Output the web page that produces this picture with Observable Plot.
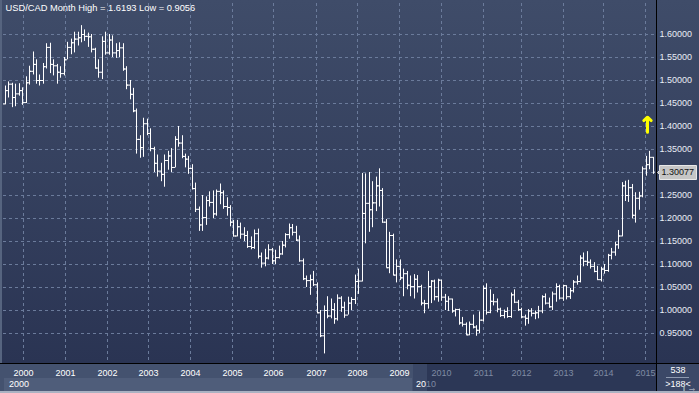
<!DOCTYPE html>
<html><head><meta charset="utf-8">
<script src="https://cdn.jsdelivr.net/npm/d3@7"></script>
<script src="https://cdn.jsdelivr.net/npm/@observablehq/plot@0.6"></script>
<style>
html,body{margin:0;padding:0;background:#2b3655;}
#wrap{position:relative;width:699px;height:393px;overflow:hidden;font-family:"Liberation Sans",Arial,sans-serif;background:#aab2c2;}
.abs{position:absolute;}
#plotbg{left:0;top:0;width:699px;height:363px;background:linear-gradient(#3f4c69,#2a3453);}
#leftedge{left:0;top:0;width:2px;height:363px;background:#56647f;}
#rowA1{left:0;top:364px;width:413px;height:13px;background:#44526f;}
#rowA2{left:413px;top:364px;width:243px;height:13px;background:#2c3756;}
#rowB1{left:0;top:377px;width:413px;height:14px;background:#44526f;}
#rowB1in{left:4px;top:378px;width:408px;height:13px;background:#4f5d7a;}
#rowB2{left:413px;top:377px;width:14px;height:14px;background:#3a4766;}
#rowB3{left:427px;top:377px;width:229px;height:14px;background:#2c3756;}
#rowAmid{left:413px;top:364px;width:14px;height:13px;background:#3a4766;}
#rbox{left:657px;top:364px;width:42px;height:27px;background:#3b4867;}
#hline{left:0;top:363px;width:699px;height:1px;background:#000;}
#vline{left:656px;top:0;width:1px;height:391px;background:#000;}
.t{position:absolute;font-size:9px;line-height:10px;color:#fff;white-space:nowrap;}
.c{position:absolute;left:657px;width:42px;text-align:center;font-size:9px;line-height:10px;color:#fff;white-space:nowrap;}
#svgholder{position:absolute;left:0;top:0;width:699px;height:393px;}
</style>
</head><body>
<div id="wrap">
  <div class="abs" id="plotbg"></div>
  <div class="abs" id="leftedge"></div>
  <div class="abs" id="rowA1"></div>
  <div class="abs" id="rowA2"></div>
  <div class="abs" id="rowAmid"></div>
  <div class="abs" id="rowB1"></div>
  <div class="abs" id="rowB1in"></div>
  <div class="abs" id="rowB2"></div>
  <div class="abs" id="rowB3"></div>
  <div class="abs" id="rbox"></div>
  <div class="abs" id="hline"></div>
  <div class="abs" id="vline"></div>
  <div class="t" style="left:9px;top:379px;">2000</div>
  <div class="t" style="left:416px;top:379px;">20<span style="color:#7f8ba3">10</span></div>
  <div class="c" id="barCount" style="top:365px;"></div>
  <div class="abs" style="left:666px;top:377px;width:23px;height:1px;background:#8e9ab0;"></div>
  <div class="c" id="visCount" style="top:379px;"></div>
  <div id="svgholder"></div>
</div>
<script>
const title = "USD/CAD Month High = 1.6193 Low = 0.9056";
const opens = [1.449,1.478,1.492,1.463,1.471,1.478,1.452,1.495,1.520,1.535,1.500,1.500,1.530,1.572,1.535,1.532,1.518,1.515,1.545,1.572,1.582,1.590,1.593,1.600,1.596,1.595,1.568,1.527,1.518,1.585,1.560,1.588,1.560,1.565,1.571,1.525,1.490,1.470,1.434,1.372,1.354,1.406,1.385,1.352,1.320,1.303,1.296,1.326,1.336,1.311,1.372,1.364,1.335,1.329,1.309,1.265,1.220,1.186,1.202,1.239,1.235,1.210,1.259,1.256,1.226,1.224,1.192,1.162,1.182,1.166,1.163,1.139,1.137,1.167,1.118,1.103,1.114,1.132,1.108,1.115,1.123,1.142,1.165,1.180,1.170,1.153,1.108,1.069,1.065,1.067,1.056,0.995,0.945,1.000,0.988,1.002,0.982,1.027,1.007,0.990,1.016,1.024,1.063,1.064,1.211,1.233,1.219,1.234,1.271,1.261,1.192,1.093,1.163,1.077,1.096,1.071,1.080,1.055,1.052,1.068,1.052,1.016,1.015,1.052,1.064,1.030,1.066,1.029,1.020,1.025,0.999,1.002,0.973,0.970,0.947,0.970,0.964,0.957,0.979,1.048,0.996,1.020,1.019,1.003,0.989,0.998,0.987,1.034,1.018,1.002,0.986,0.983,0.999,0.994,0.995,0.999,1.030,1.016,1.008,1.036,1.052,1.027,1.054,1.030,1.043,1.062,1.063,1.114,1.107,1.105,1.096,1.085,1.067,1.090,1.087,1.120,1.127,1.143,1.162,1.271,1.250,1.267,1.207,1.244,1.249,1.308,1.317,1.333];
const highs = [1.488,1.497,1.494,1.492,1.493,1.484,1.508,1.531,1.562,1.545,1.512,1.537,1.580,1.581,1.545,1.535,1.530,1.550,1.583,1.590,1.605,1.605,1.6193,1.610,1.603,1.600,1.570,1.545,1.595,1.605,1.600,1.597,1.580,1.582,1.580,1.530,1.500,1.483,1.438,1.380,1.418,1.416,1.395,1.355,1.338,1.320,1.338,1.346,1.352,1.378,1.400,1.380,1.340,1.335,1.317,1.277,1.225,1.250,1.247,1.258,1.260,1.262,1.275,1.260,1.245,1.228,1.196,1.196,1.190,1.180,1.172,1.160,1.175,1.177,1.125,1.133,1.143,1.135,1.131,1.140,1.150,1.167,1.188,1.187,1.183,1.162,1.112,1.075,1.077,1.085,1.060,1.000,1.010,1.030,1.025,1.015,1.034,1.030,1.018,1.029,1.028,1.077,1.090,1.298,1.297,1.300,1.280,1.290,1.308,1.265,1.198,1.170,1.166,1.110,1.110,1.090,1.085,1.075,1.078,1.076,1.055,1.022,1.085,1.065,1.066,1.068,1.066,1.035,1.030,1.025,1.003,1.003,0.985,0.973,0.975,0.990,0.967,0.997,1.053,1.058,1.045,1.035,1.025,1.005,1.001,1.006,1.038,1.045,1.022,1.005,0.990,1.002,1.004,0.999,1.009,1.032,1.036,1.027,1.040,1.058,1.055,1.055,1.054,1.048,1.065,1.075,1.119,1.125,1.128,1.110,1.104,1.096,1.094,1.100,1.122,1.135,1.148,1.174,1.278,1.281,1.283,1.274,1.256,1.257,1.312,1.335,1.346,1.333];
const lows = [1.447,1.462,1.441,1.443,1.466,1.446,1.450,1.490,1.512,1.492,1.488,1.492,1.525,1.515,1.510,1.492,1.505,1.510,1.545,1.556,1.560,1.575,1.582,1.585,1.572,1.560,1.525,1.505,1.502,1.555,1.555,1.550,1.548,1.550,1.520,1.480,1.458,1.430,1.340,1.331,1.333,1.380,1.345,1.300,1.290,1.280,1.268,1.305,1.300,1.310,1.355,1.330,1.310,1.296,1.262,1.213,1.172,1.172,1.185,1.225,1.200,1.205,1.230,1.220,1.205,1.182,1.160,1.160,1.155,1.150,1.135,1.132,1.133,1.112,1.092,1.095,1.110,1.100,1.100,1.112,1.120,1.136,1.155,1.162,1.150,1.105,1.065,1.050,1.033,1.052,0.993,0.941,0.9056,0.982,0.982,0.970,0.977,0.996,0.983,0.990,1.000,1.013,1.035,1.062,1.145,1.170,1.180,1.215,1.225,1.190,1.093,1.080,1.076,1.060,1.065,1.030,1.045,1.030,1.025,1.038,1.010,0.993,1.003,1.015,1.021,1.018,1.020,1.000,0.998,0.994,0.986,0.968,0.964,0.946,0.945,0.960,0.944,0.950,0.975,0.990,0.993,1.010,0.995,0.985,0.982,0.983,0.983,1.015,0.998,0.982,0.966,0.970,0.986,0.980,0.982,0.993,1.012,1.005,1.000,1.018,1.023,1.020,1.023,1.024,1.038,1.055,1.060,1.095,1.096,1.090,1.082,1.066,1.062,1.079,1.083,1.110,1.118,1.133,1.160,1.237,1.235,1.199,1.190,1.218,1.245,1.292,1.306,1.296];
const closes = [1.478,1.492,1.463,1.471,1.478,1.452,1.495,1.520,1.535,1.500,1.500,1.530,1.572,1.535,1.532,1.518,1.515,1.545,1.572,1.582,1.590,1.593,1.600,1.596,1.595,1.568,1.527,1.518,1.585,1.560,1.588,1.560,1.565,1.571,1.525,1.490,1.470,1.434,1.372,1.354,1.406,1.385,1.352,1.320,1.303,1.296,1.326,1.336,1.311,1.372,1.364,1.335,1.329,1.309,1.265,1.220,1.186,1.202,1.239,1.235,1.210,1.259,1.256,1.226,1.224,1.192,1.162,1.182,1.166,1.163,1.139,1.137,1.167,1.118,1.103,1.114,1.132,1.108,1.115,1.123,1.142,1.165,1.180,1.170,1.153,1.108,1.069,1.065,1.067,1.056,0.995,0.945,1.000,0.988,1.002,0.982,1.027,1.007,0.990,1.016,1.024,1.063,1.064,1.211,1.233,1.219,1.234,1.271,1.261,1.192,1.093,1.163,1.077,1.096,1.071,1.080,1.055,1.052,1.068,1.052,1.016,1.015,1.052,1.064,1.030,1.066,1.029,1.020,1.025,0.999,1.002,0.973,0.970,0.947,0.970,0.964,0.957,0.979,1.048,0.996,1.020,1.019,1.003,0.989,0.998,0.987,1.034,1.018,1.002,0.986,0.983,0.999,0.994,0.995,0.999,1.030,1.016,1.008,1.036,1.052,1.027,1.054,1.030,1.043,1.062,1.063,1.114,1.107,1.105,1.096,1.085,1.067,1.090,1.087,1.120,1.127,1.143,1.162,1.271,1.250,1.267,1.207,1.244,1.249,1.308,1.317,1.333,1.30077];
const yearLabels = ["2000","2001","2002","2003","2004","2005","2006","2007","2008","2009","2010","2011","2012","2013","2014","2015"];
const yearTickPos = [5.25,17.37,29.49,41.33,53.45,65.57,77.4,89.81,101.65,113.77,125.89,138.01,148.97,161.1,172.6,184.76];
const priceTicks = [0.95,1.00,1.05,1.10,1.15,1.20,1.25,1.30,1.35,1.40,1.45,1.50,1.55,1.60];
const signal = [{i: 185.2, from: 1.3876, to: 1.4202}];
const lastPrice = 1.30077;
const barCountText = "538";
const visibleCountText = ">188<";

document.getElementById("barCount").textContent = barCountText;
document.getElementById("visCount").textContent = visibleCountText;

const bars = closes.map((c, i) => ({i, o: opens[i], h: highs[i], l: lows[i], c}));
const labelAt = new Map(yearTickPos.map((p, k) => [p, yearLabels[k]]));
const brightYears = yearTickPos.slice(0, 10);
const dimYears = yearTickPos.slice(10);
// the last-price box covers the 1.30000 label, as in the reference
const priceLabelTicks = priceTicks.filter(t => Math.abs(t - lastPrice) > 0.02);

const chart = Plot.plot({
  width: 699, height: 393,
  marginLeft: 3, marginRight: 43, marginTop: 3, marginBottom: 30,
  style: {background: "transparent", color: "#111", fontFamily: "Liberation Sans, Arial, sans-serif", fontSize: "9px", overflow: "visible"},
  x: {domain: [-0.52, 187.94], round: true},
  y: {domain: [0.8848, 1.6674]},
  marks: [
    Plot.gridY(priceTicks, {stroke: "#6b7b9b", strokeOpacity: 1, strokeDasharray: "3,3"}),
    Plot.gridX(yearTickPos, {stroke: "#6b7b9b", strokeOpacity: 1, strokeDasharray: "3,3"}),
    Plot.ruleX(bars, {x: "i", y1: "l", y2: "h", stroke: "#ffffff", strokeWidth: 1}),
    Plot.ruleY(bars, {y: "o", x1: d => d.i - 0.6, x2: "i", stroke: "#ffffff", strokeWidth: 1}),
    Plot.ruleY(bars, {y: "c", x1: "i", x2: d => d.i + 0.6, stroke: "#ffffff", strokeWidth: 1}),
    Plot.axisY(priceLabelTicks, {anchor: "right", tickSize: 0, tickPadding: 3, tickFormat: d3.format(".5f"), color: "#e9edf5", fontSize: 9}),
    Plot.axisX(brightYears, {anchor: "bottom", tickSize: 0, tickPadding: 6, tickFormat: d => labelAt.get(d), color: "#ffffff", fontSize: 9}),
    Plot.axisX(dimYears, {anchor: "bottom", tickSize: 0, tickPadding: 6, tickFormat: d => labelAt.get(d), color: "#7f8ba3", fontSize: 9}),
    Plot.arrow(signal, {x: "i", y1: "from", y2: "to", stroke: "#ffff00", strokeWidth: 3, headAngle: 95, headLength: 8}),
    Plot.text([title], {frameAnchor: "top-left", dx: 2, dy: 1, fill: "#ffffff", fontSize: 9.3, textAnchor: "start", lineAnchor: "top"}),
    Plot.tip([{i: 188.37, v: lastPrice}], {x: "i", y: "v", title: d => d.v.toFixed(5), anchor: "left", pointerSize: 4, textPadding: 2, fill: "#c6c6c6", stroke: "#e8e8e8", fontSize: 9, pathFilter: "none"})
  ]
});
document.getElementById("svgholder").appendChild(chart);
chart.querySelectorAll('[aria-label="tip"] text, [aria-label="tip"] tspan').forEach(t => t.setAttribute("fill", "#111"));
</script>
</body></html>
